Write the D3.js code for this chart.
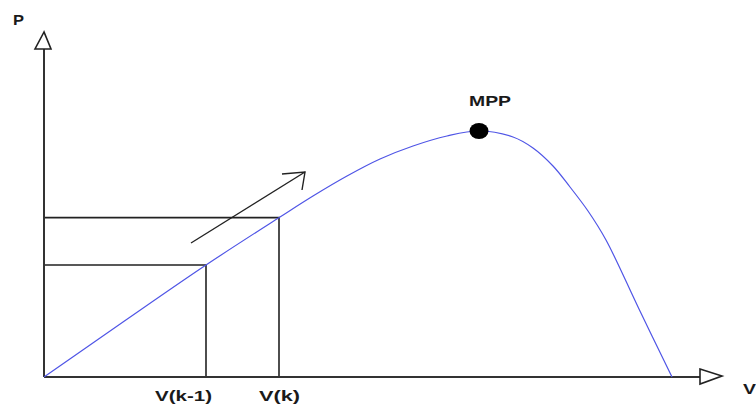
<!DOCTYPE html>
<html><head><meta charset="utf-8">
<script src="https://cdn.jsdelivr.net/npm/d3@7"></script>
<style>body{margin:0;background:#fff}svg{display:block}</style>
</head><body>
<svg id="c" width="756" height="405"></svg>
<script>
// P-V curve (arbitrary units)
const voltage = [0, 79, 162, 236, 269, 303, 336, 369, 403, 435, 469, 489, 509, 526, 544, 562, 595, 628];
const power   = [0, 55, 112, 160, 181, 201, 218, 231, 241, 246, 240, 229, 211, 190, 166, 137, 68, 0];
const opPointsV = [162, 235];          // V(k-1), V(k)
const opLabels = ["V(k-1)", "V(k)"];
const mppV = 435, mppP = 246;
const axisLabels = ["P", "V"];

const svg = d3.select("#c");
const x = d3.scaleLinear().domain([0, 680]).range([44, 724]);
const y = d3.scaleLinear().domain([0, 345]).range([377, 32]);

const data = voltage.map((v, i) => ({v, p: power[i]}));
const opP = opPointsV.map(v => {
  for (let i = 1; i < data.length; i++) if (data[i].v >= v) {
    const a = data[i-1], b = data[i];
    return a.p + (b.p - a.p) * (v - a.v) / (b.v - a.v);
  }
});

const axisColor = "#333";
opPointsV.forEach((v, i) => {
  svg.append("path")
    .attr("d", `M${x(0)},${y(opP[i])}H${x(v)}V${y(0)}`)
    .attr("fill", "none").attr("stroke", "#222").attr("stroke-width", 1.6);
});

// axes
svg.append("line").attr("x1", x(0)).attr("y1", y(0)).attr("x2", x(0)).attr("y2", 49)
  .attr("stroke", axisColor).attr("stroke-width", 2);
svg.append("line").attr("x1", x(0)).attr("y1", y(0)).attr("x2", 700).attr("y2", y(0))
  .attr("stroke", axisColor).attr("stroke-width", 2);
svg.append("path").attr("d", `M${x(0)},32L35,49H51Z`)
  .attr("fill", "#fff").attr("stroke", "#222").attr("stroke-width", 1.6);
svg.append("path").attr("d", `M700,369L722,376L700,384Z`)
  .attr("fill", "#fff").attr("stroke", "#222").attr("stroke-width", 1.6);

// curve
svg.append("path").datum(data)
  .attr("d", d3.line().x(d => x(d.v)).y(d => y(d.p)).curve(d3.curveCatmullRom.alpha(0.5)))
  .attr("fill", "none").attr("stroke", "#4f55e6").attr("stroke-width", 1.2);

// direction arrow
svg.append("line").attr("x1", 191).attr("y1", 243).attr("x2", 305).attr("y2", 172)
  .attr("stroke", "#222").attr("stroke-width", 1.4);
svg.append("path").attr("d", "M282,174L305,172L302,190")
  .attr("fill", "none").attr("stroke", "#222").attr("stroke-width", 1.4);

// MPP
svg.append("ellipse").attr("cx", x(mppV)).attr("cy", y(mppP)).attr("rx", 9.5).attr("ry", 8)
  .attr("fill", "#000");

const font = "Arial, 'Liberation Sans', sans-serif";
function label(t, xx, yy, w) {
  svg.append("text").attr("x", xx).attr("y", yy).text(t)
    .attr("font-family", font).attr("font-weight", "bold").attr("font-size", 15)
    .attr("fill", "#1a1a1a")
    .attr("textLength", w).attr("lengthAdjust", "spacingAndGlyphs");
}
label("MPP", 469, 106, 42);
label(axisLabels[0], 13, 25, 11);
label(axisLabels[1], 743, 394, 13);
label(opLabels[0], 155, 401, 57);
label(opLabels[1], 259, 401, 41);
</script>
</body></html>
